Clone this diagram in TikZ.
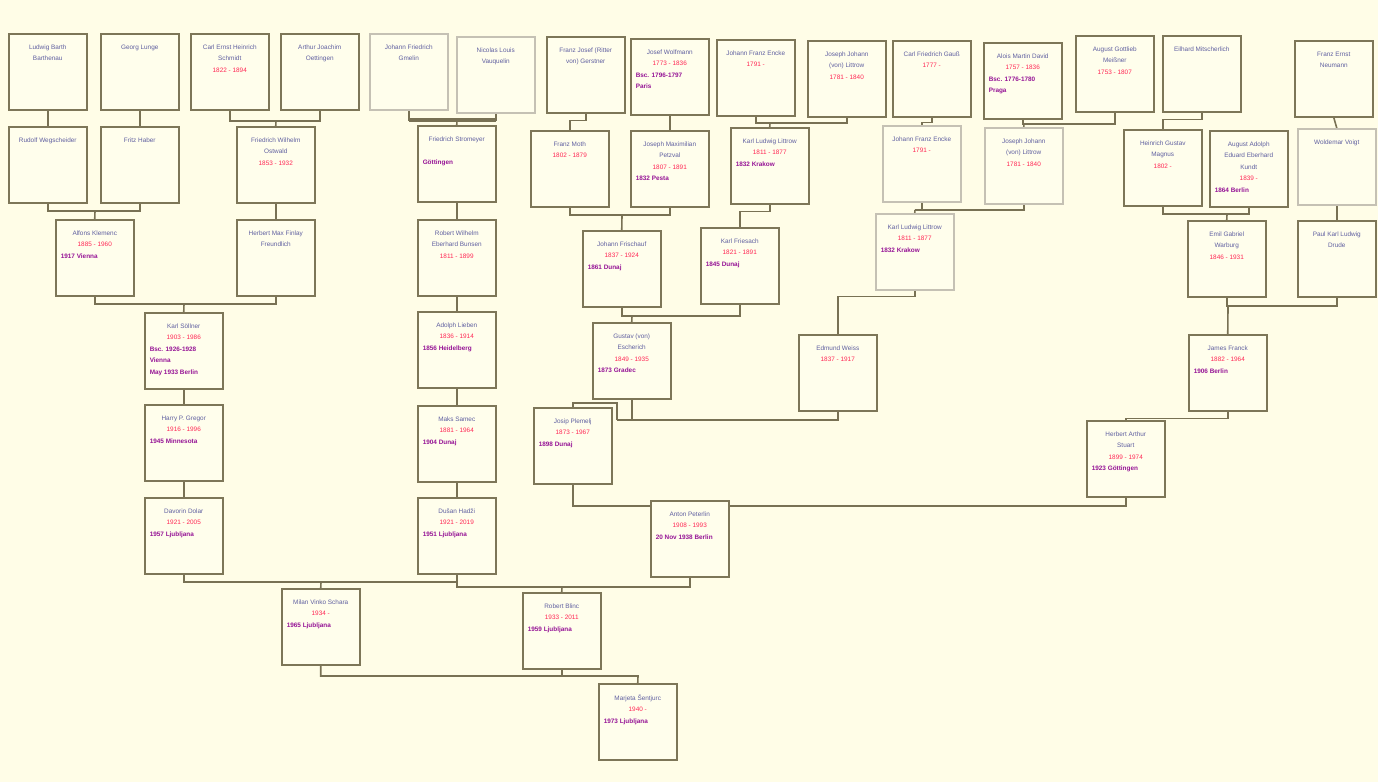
\documentclass[tikz,border=0pt]{standalone}
\usepackage{fontspec}
\setmainfont{Liberation Sans}
\definecolor{bgc}{RGB}{255,253,231}
\definecolor{boxf}{RGB}{255,254,236}
\definecolor{boxc}{RGB}{125,118,88}
\definecolor{linec}{RGB}{120,113,84}
\definecolor{namec}{RGB}{95,95,160}
\definecolor{datec}{RGB}{255,40,85}
\definecolor{placec}{RGB}{150,20,150}
\pgfdeclarelayer{paper}
\pgfdeclarelayer{wires}
\pgfsetlayers{paper,wires,main}
\newcommand\nm[1]{{\centering\color{namec}#1\par}}
\newcommand\dt[1]{{\centering\color{datec}#1\par}}
\newcommand\pl[1]{{\raggedright\leftskip=3pt\color{placec}\bfseries #1\par}}
\newcommand\person[4][]{\node[pbox,#1] (#2) at (#3) {\parbox[t][72pt][t]{74pt}{\vspace*{9pt}#4}};}
\tikzset{
  pbox/.style={draw=boxc, line width=1.5pt, fill=boxf, inner sep=2pt, anchor=north west,
    font=\fontsize{6.4}{11.5}\selectfont},
  faint/.style={draw=boxc!45},
  link/.style={draw=linec, line width=1.6pt}
}
\begin{document}
\begin{tikzpicture}[x=1pt,y=-1pt]
\useasboundingbox (0,0) rectangle (1378,782);
\begin{pgfonlayer}{paper}
\fill[bgc] (0,0) rectangle (1378,782);
\end{pgfonlayer}
% row 1
\person{barth}{8,33}{\nm{Ludwig Barth\\Barthenau}}
\person{lunge}{100,33}{\nm{Georg Lunge}}
\person{schmidt}{190,33}{\nm{Carl Ernst Heinrich\\Schmidt}\dt{1822 - 1894}}
\person{oett}{280,33}{\nm{Arthur Joachim\\Oettingen}}
\person[faint]{gmelin}{369,33}{\nm{Johann Friedrich\\Gmelin}}
\person[faint]{vauq}{456,36}{\nm{Nicolas Louis\\Vauquelin}}
\person{gerst}{546,36}{\nm{Franz Josef (Ritter\\von) Gerstner}}
\person{wolf}{630,38}{\nm{Josef Wolfmann}\dt{1773 - 1836}\pl{Bsc. 1796-1797\\Paris}}
\person{encA}{716,39}{\nm{Johann Franz Encke}\dt{1791 -}}
\person{jjlA}{807,40}{\nm{Joseph Johann\\(von) Littrow}\dt{1781 - 1840}}
\person{gauss}{892,40}{\nm{Carl Friedrich Gauß}\dt{1777 -}}
\person{david}{983,42}{\nm{Alois Martin David}\dt{1757 - 1836}\pl{Bsc. 1776-1780\\Praga}}
\person{meiss}{1075,35}{\nm{August Gottlieb\\Meißner}\dt{1753 - 1807}}
\person{mitsch}{1162,35}{\nm{Eilhard Mitscherlich}}
\person{neum}{1294,40}{\nm{Franz Ernst\\Neumann}}
% row 2
\person{weg}{8,126}{\nm{Rudolf Wegscheider}}
\person{haber}{100,126}{\nm{Fritz Haber}}
\person{ostw}{236,126}{\nm{Friedrich Wilhelm\\Ostwald}\dt{1853 - 1932}}
\person{strom}{417,125}{\nm{Friedrich Stromeyer}\vspace{11.5pt}\pl{Göttingen}}
\person{moth}{530,130}{\nm{Franz Moth}\dt{1802 - 1879}}
\person{petz}{630,130}{\nm{Joseph Maximilian\\Petzval}\dt{1807 - 1891}\pl{1832 Pesta}}
\person{kllA}{730,127}{\nm{Karl Ludwig Littrow}\dt{1811 - 1877}\pl{1832 Krakow}}
\person[faint]{encB}{882,125}{\nm{Johann Franz Encke}\dt{1791 -}}
\person[faint]{jjlB}{984,127}{\nm{Joseph Johann\\(von) Littrow}\dt{1781 - 1840}}
\person{magnus}{1123,129}{\nm{Heinrich Gustav\\Magnus}\dt{1802 -}}
\person{kundt}{1209,130}{\nm{August Adolph\\Eduard Eberhard\\Kundt}\dt{1839 -}\pl{1864 Berlin}}
\person[faint]{voigt}{1297,128}{\nm{Woldemar Voigt}}
% row 3
\person{klem}{55,219}{\nm{Alfons Klemenc}\dt{1885 - 1960}\pl{1917 Vienna}}
\person{freund}{236,219}{\nm{Herbert Max Finlay\\Freundlich}}
\person{bunsen}{417,219}{\nm{Robert Wilhelm\\Eberhard Bunsen}\dt{1811 - 1899}}
\person{frisch}{582,230}{\nm{Johann Frischauf}\dt{1837 - 1924}\pl{1861 Dunaj}}
\person{fries}{700,227}{\nm{Karl Friesach}\dt{1821 - 1891}\pl{1845 Dunaj}}
\person[faint]{kllB}{875,213}{\nm{Karl Ludwig Littrow}\dt{1811 - 1877}\pl{1832 Krakow}}
\person{warb}{1187,220}{\nm{Emil Gabriel\\Warburg}\dt{1846 - 1931}}
\person{drude}{1297,220}{\nm{Paul Karl Ludwig\\Drude}}
% row 4
\person{soll}{144,312}{\nm{Karl Söllner}\dt{1903 - 1986}\pl{Bsc. 1926-1928\\Vienna\\May 1933 Berlin}}
\person{lieben}{417,311}{\nm{Adolph Lieben}\dt{1836 - 1914}\pl{1856 Heidelberg}}
\person{esch}{592,322}{\nm{Gustav (von)\\Escherich}\dt{1849 - 1935}\pl{1873 Gradec}}
\person{weiss}{798,334}{\nm{Edmund Weiss}\dt{1837 - 1917}}
\person{franck}{1188,334}{\nm{James Franck}\dt{1882 - 1964}\pl{1906 Berlin}}
% row 5
\person{gregor}{144,404}{\nm{Harry P. Gregor}\dt{1916 - 1996}\pl{1945 Minnesota}}
\person{samec}{417,405}{\nm{Maks Samec}\dt{1881 - 1964}\pl{1904 Dunaj}}
\person{plem}{533,407}{\nm{Josip Plemelj}\dt{1873 - 1967}\pl{1898 Dunaj}}
\person{stuart}{1086,420}{\nm{Herbert Arthur\\Stuart}\dt{1899 - 1974}\pl{1923 Göttingen}}
% row 6
\person{dolar}{144,497}{\nm{Davorin Dolar}\dt{1921 - 2005}\pl{1957 Ljubljana}}
\person{hadzi}{417,497}{\nm{Dušan Hadži}\dt{1921 - 2019}\pl{1951 Ljubljana}}
\person{peter}{650,500}{\nm{Anton Peterlin}\dt{1908 - 1993}\pl{20 Nov 1938 Berlin}}
% row 7
\person{schara}{281,588}{\nm{Milan Vinko Schara}\dt{1934 -}\pl{1965 Ljubljana}}
\person{blinc}{522,592}{\nm{Robert Blinc}\dt{1933 - 2011}\pl{1959 Ljubljana}}
% row 8
\person{sent}{598,683}{\nm{Marjeta Šentjurc}\dt{1940 -}\pl{1973 Ljubljana}}

\begin{pgfonlayer}{wires}
\draw[link] (barth.south) -- (weg.north);
\draw[link] (lunge.south) -- (haber.north);
\coordinate (j1) at (276,121);
\draw[link] (schmidt.south) |- (j1) -| (oett.south);
\draw[link] (j1) -- (ostw.north);
\coordinate (j2) at (95,211);
\draw[link] (weg.south) |- (j2) -| (haber.south);
\draw[link] (j2) -- (klem.north);
\draw[link] (ostw.south) -- (freund.north);
\coordinate (j3) at (184,304);
\draw[link] (klem.south) |- (j3) -| (freund.south);
\draw[link] (j3) -- (soll.north);
\draw[link] (soll.south) -- (gregor.north);
\draw[link] (gregor.south) -- (dolar.north);
\coordinate (j4) at (457,120);
\draw[link] (gmelin.south) |- (j4) -| (vauq.south);
\draw[link, line width=3.5pt] (gmelin.south |- j4) -- (vauq.south |- j4);
\draw[link] (j4) -- (strom.north);
\draw[link] (strom.south) -- (bunsen.north);
\draw[link] (bunsen.south) -- (lieben.north);
\draw[link] (lieben.south) -- (samec.north);
\draw[link] (samec.south) -- (hadzi.north);
\draw[link] (gerst.south) -- ++(0,7) -| (moth.north);
\draw[link] (wolf.south) -- (petz.north);
\coordinate (j5) at (622,215);
\draw[link] (moth.south) |- (j5) -| (petz.south);
\draw[link] (j5) -- (frisch.north);
\coordinate (j6) at (770,123);
\draw[link] (encA.south) |- (j6) -| (jjlA.south);
\draw[link] (j6) -- (kllA.north);
\draw[link] (kllA.south) -- ++(0,7) -| (fries.north);
\coordinate (j7) at (632,316);
\draw[link] (frisch.south) |- (j7) -| (fries.south);
\draw[link] (j7) -- (esch.north);
\draw[link] (gauss.south) -- ++(0,5) -| (encB.north);
\coordinate (j8) at (1024,124);
\draw[link] (david.south) |- (j8) -| (meiss.south);
\draw[link] (j8) -- (jjlB.north);
\coordinate (j9) at (915,210);
\draw[link] (encB.south) |- (j9) -| (jjlB.south);
\draw[link] (j9) -- (kllB.north);
\draw[link] (kllB.south) -- ++(0,6) -| (weiss.north);
\coordinate (j10) at (617,420);
\draw[link] (esch.south) |- (j10);
\draw[link] (j10) -| (weiss.south);
\draw[link] (j10) -- ++(0,-17) -| (plem.north);
\draw[link] (mitsch.south) -- ++(0,7) -| (magnus.north);
\coordinate (j11) at (1227,214);
\draw[link] (magnus.south) |- (j11) -| (kundt.south);
\draw[link] (j11) -- (warb.north);
\draw[link] (neum.south) -- (voigt.north);
\draw[link] (voigt.south) -- (drude.north);
\coordinate (j12) at (1228,306);
\draw[link] (warb.south) |- (j12) -| (drude.south);
\draw[link] (j12) -- (franck.north);
\draw[link] (franck.south) -- ++(0,7) -| (stuart.north);
\coordinate (j13) at (690,506);
\draw[link] (plem.south) |- (j13) -| (stuart.south);
\coordinate (j14) at (321,582);
\draw[link] (dolar.south) |- (j14) -| (hadzi.south);
\draw[link] (j14) -- (schara.north);
\coordinate (j15) at (562,587);
\draw[link] (hadzi.south) |- (j15) -| (peter.south);
\draw[link] (j15) -- (blinc.north);
\coordinate (j16) at (638,676);
\draw[link] (schara.south) |- (j16) -- (sent.north);
\draw[link] (blinc.south) -- (blinc.south |- j16);
\end{pgfonlayer}
\end{tikzpicture}
\end{document}
